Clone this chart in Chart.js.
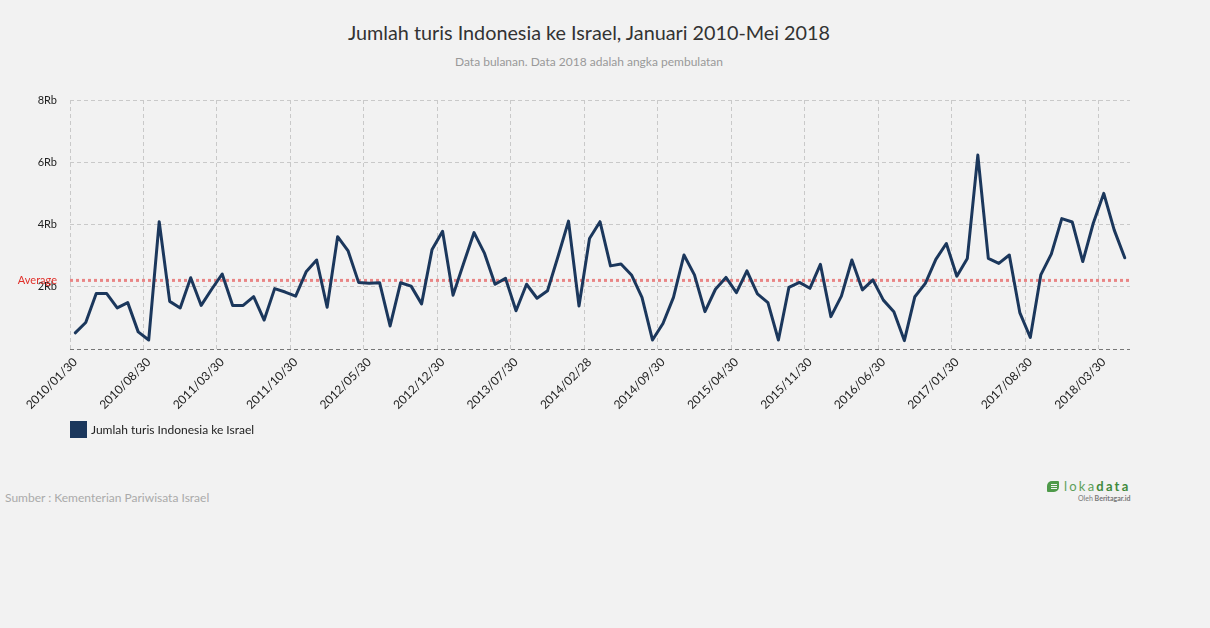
<!DOCTYPE html>
<html>
<head>
<meta charset="utf-8">
<script src="https://cdn.jsdelivr.net/npm/chart.js@4/dist/chart.umd.min.js"></script>
<style>
    html, body { margin: 0; padding: 0; background: #f2f2f2; }
    body { width: 1210px; height: 628px; position: relative; overflow: hidden; font-family: 'Lato', sans-serif; }
    #title { position: absolute; left: 0; top: 20px; width: 1178px; text-align: center; font-size: 19.8px; color: #333; }
    #subtitle { position: absolute; left: 0; top: 54px; width: 1178px; text-align: center; font-size: 12px; color: #999; }
    #wrap { position: absolute; left: 0; top: 0; width: 1210px; height: 430px; }
    #legend { position: absolute; left: 70px; top: 421px; font-size: 12px; color: #222; line-height: 17px; }
    #legend span.box { display: inline-block; width: 17px; height: 17px; background: #1b375c; vertical-align: top; margin-right: 4px; }
    #source { position: absolute; left: 5px; top: 490px; font-size: 12px; color: #aaa; }
    #logo { position: absolute; left: 1046px; top: 479px; }
    #logo .icon { position: absolute; left: 1px; top: 2px; width: 12px; height: 11px; background: #4f9a4a; border-radius: 5px 1px 5px 1px; }
    #logo .icon i { position: absolute; left: 4px; width: 6px; height: 1px; background: #f2f2f2; }
    #logo .txt { position: absolute; left: 18px; top: -1px; font-size: 13px; letter-spacing: 2.2px; color: #5ea05a; white-space: nowrap; }
    #logo .txt b { color: #3f8a3c; }
    #logo .by { position: absolute; left: 32px; top: 15px; font-size: 7px; color: #777; white-space: nowrap; }
</style>
</head>
<body>
<div id="title">Jumlah turis Indonesia ke Israel, Januari 2010-Mei 2018</div>
<div id="subtitle">Data bulanan. Data 2018 adalah angka pembulatan</div>
<div id="wrap"><canvas id="chart1" width="1210" height="430"></canvas></div>
<div id="legend"><span class="box"></span>Jumlah turis Indonesia ke Israel</div>
<div id="source">Sumber : Kementerian Pariwisata Israel</div>
<div id="logo">
    <div class="icon"><i style="top:3px"></i><i style="top:5px"></i><i style="top:7px"></i></div>
    <div class="txt">loka<b>data</b></div>
    <div class="by">Oleh <b>Beritagar.id</b></div>
</div>
<script>
// data bulanan Jan 2010 - Mei 2018
const seriesName = 'Jumlah turis Indonesia ke Israel';
const touristValues = [
    520, 850, 1780, 1780, 1320, 1490, 550, 290, 4090, 1530, 1320, 2290,   // 2010
    1400, 1920, 2410, 1400, 1400, 1680, 930, 1940, 1830, 1700, 2480, 2860, // 2011
    1340, 3610, 3150, 2140, 2110, 2130, 740, 2130, 2020, 1450, 3200, 3780, // 2012
    1730, 2750, 3740, 3070, 2080, 2270, 1230, 2080, 1630, 1870, 2970, 4110, // 2013
    1380, 3550, 4090, 2670, 2730, 2380, 1660, 290, 820, 1660, 3020, 2380,  // 2014
    1200, 1920, 2300, 1810, 2510, 1770, 1490, 290, 1980, 2140, 1950, 2720, // 2015
    1040, 1700, 2860, 1900, 2220, 1570, 1200, 270, 1680, 2110, 2880, 3390, // 2016
    2340, 2910, 6230, 2910, 2750, 3020, 1170, 370, 2380, 3050, 4190, 4080, // 2017
    2810, 4040, 5000, 3820, 2930                                          // 2018
];
const yTicks = [0, 2000, 4000, 6000, 8000];
const labelEvery = 7;

// label kategori: YYYY/MM/30 (Feb -> 28)
const monthLabels = [];
for (let y = 2010; y <= 2018; y++) {
    for (let m = 1; m <= 12; m++) {
        if (y === 2018 && m > 5) break;
        const day = m === 2 ? 28 : 30;
        monthLabels.push(y + '/' + String(m).padStart(2, '0') + '/' + day);
    }
}

const averageValue = touristValues.reduce((a, b) => a + b, 0) / touristValues.length;

Chart.defaults.font.family = 'Lato';

// garis rata-rata
const averageLine = {
    id: 'averageLine',
    beforeDatasetsDraw(chart) {
        const ctx = chart.ctx;
        const area = chart.chartArea;
        const y = chart.scales.y.getPixelForValue(averageValue);
        ctx.save();
        ctx.strokeStyle = '#e98585';
        ctx.lineWidth = 3;
        ctx.setLineDash([3, 3]);
        ctx.beginPath();
        ctx.moveTo(area.left, y);
        ctx.lineTo(area.right, y);
        ctx.stroke();
        ctx.setLineDash([]);
        ctx.fillStyle = '#e0302a';
        ctx.font = '11px Lato';
        ctx.textAlign = 'right';
        ctx.textBaseline = 'middle';
        ctx.fillText('Average', area.left - 13, y);
        ctx.restore();
    }
};

const gridGray = '#c9c9c9';

const chart1 = new Chart(document.getElementById('chart1').getContext('2d'), {
    type: 'line',
    data: {
        labels: monthLabels,
        datasets: [{
            label: seriesName,
            data: touristValues,
            borderColor: '#1b375c',
            backgroundColor: '#1b375c',
            borderWidth: 3,
            borderJoinStyle: 'round',
            borderCapStyle: 'round',
            pointRadius: 0,
            tension: 0,
            fill: false
        }]
    },
    options: {
        responsive: false,
        animation: false,
        layout: { padding: { top: 100, right: 80, left: 0, bottom: 0 } },
        plugins: {
            legend: { display: false },
            tooltip: { enabled: false }
        },
        scales: {
            x: {
                offset: true,
                grid: {
                    offset: true,
                    drawTicks: false,
                    color: (c) => c.index % labelEvery === 0 ? gridGray : 'rgba(0,0,0,0)'
                },
                border: { display: false, dash: [4, 3] },
                ticks: {
                    autoSkip: false,
                    maxRotation: 45,
                    minRotation: 45,
                    padding: 6,
                    color: '#222',
                    font: { size: 12 },
                    callback: (v, i) => i % labelEvery === 0 ? monthLabels[i] : ''
                },
                afterFit: (s) => { s.height = 81; }
            },
            y: {
                min: yTicks[0],
                max: yTicks[yTicks.length - 1],
                afterBuildTicks: (s) => { s.ticks = yTicks.map(v => ({ value: v })); },
                grid: {
                    drawTicks: false,
                    color: (c) => c.tick && c.tick.value === 0 ? '#777' : gridGray
                },
                border: { display: false, dash: [4, 3] },
                ticks: {
                    padding: 13,
                    color: '#222',
                    font: { size: 11 },
                    callback: (v) => v === 0 ? '' : (v / 1000) + 'Rb'
                },
                afterFit: (s) => { s.width = 70; }
            }
        }
    },
    plugins: [averageLine]
});
</script>
</body>
</html>
